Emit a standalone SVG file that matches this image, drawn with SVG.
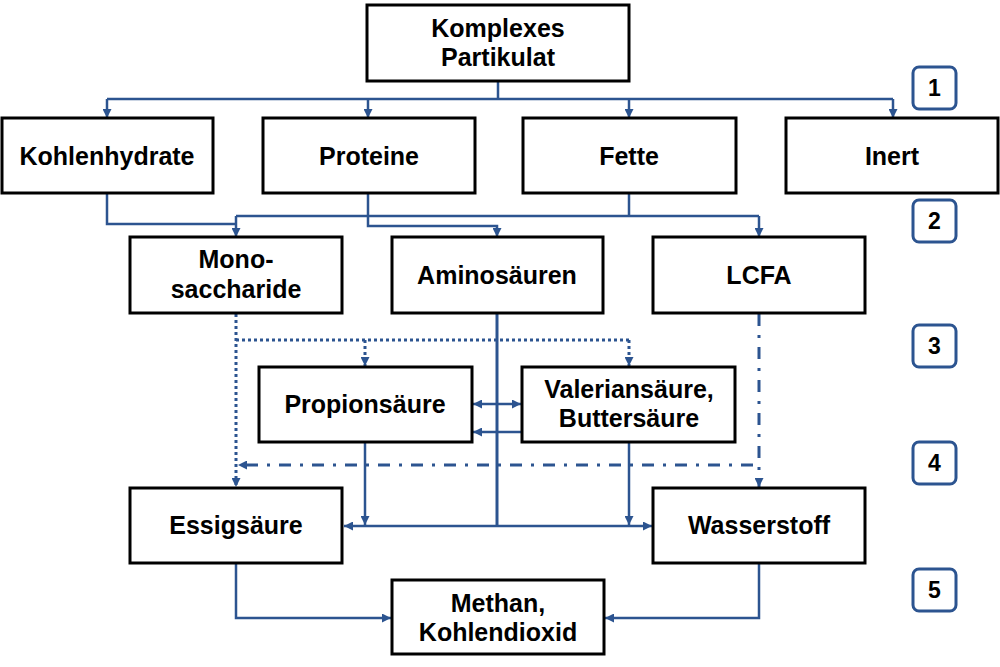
<svg xmlns="http://www.w3.org/2000/svg" width="1000" height="667" viewBox="0 0 1000 667">
<style>
.box{fill:#fff;stroke:#000;stroke-width:3}
.num{fill:#fff;stroke:#2C5490;stroke-width:3}
.t{font-family:"Liberation Sans",Arial,sans-serif;font-weight:bold;font-size:25px;fill:#000;text-anchor:middle}
.tn{font-family:"Liberation Sans",Arial,sans-serif;font-weight:bold;font-size:23px;fill:#000;text-anchor:middle}
.c{fill:none;stroke:#2C5490;stroke-width:2.5}
.thick{stroke-width:3}
.dot{stroke-width:3;stroke-dasharray:3 3}
.dd{stroke-width:3;stroke-dasharray:12 9 3 9}
</style>
<defs>
<marker id="a" viewBox="0 0 10 10" refX="10" refY="5" markerWidth="9" markerHeight="9" markerUnits="userSpaceOnUse" orient="auto-start-reverse">
<path d="M0,0 L10,5 L0,10 z" fill="#2C5490" stroke="none"/>
</marker>
</defs>
<g id="connectors">
<path class="c" d="M498,81 V99 M107,99 H893"/>
<path class="c" d="M107,99 V118" marker-end="url(#a)"/>
<path class="c" d="M368,99 V118" marker-end="url(#a)"/>
<path class="c" d="M629,99 V118" marker-end="url(#a)"/>
<path class="c" d="M893,99 V118" marker-end="url(#a)"/>
<path class="c" d="M107,193 V224 H236"/>
<path class="c" d="M629,193 V216 M236,216 H759"/>
<path class="c" d="M236,216 V237" marker-end="url(#a)"/>
<path class="c" d="M759,216 V237" marker-end="url(#a)"/>
<path class="c" d="M368,193 V226 H497 V237" marker-end="url(#a)"/>
<path class="c dot" d="M236,314 V487" marker-end="url(#a)"/>
<path class="c dot" d="M236,340 H629"/>
<path class="c dot" d="M365,340 V366" marker-end="url(#a)"/>
<path class="c dot" d="M629,340 V366" marker-end="url(#a)"/>
<path class="c dd" d="M759,314 V487" marker-end="url(#a)"/>
<path class="c dd" d="M753,465 H238" marker-end="url(#a)"/>
<path class="c thick" d="M497,314 V526"/>
<path class="c" d="M344,526 H652" marker-start="url(#a)" marker-end="url(#a)"/>
<path class="c" d="M365,443 V525" marker-end="url(#a)"/>
<path class="c" d="M629,443 V525" marker-end="url(#a)"/>
<path class="c" d="M473,404 H521" marker-start="url(#a)" marker-end="url(#a)"/>
<path class="c" d="M521,432 H473" marker-end="url(#a)"/>
<path class="c" d="M236,564 V618 H391" marker-end="url(#a)"/>
<path class="c" d="M759,564 V618 H605" marker-end="url(#a)"/>
</g>
<g id="n-komplexes"><rect class="box" x="367" y="5" width="262" height="76"/><text class="t" x="498" y="37">Komplexes</text><text class="t" x="498" y="66">Partikulat</text></g>
<g id="n-kohlenhydrate"><rect class="box" x="2" y="118" width="211" height="75"/><text class="t" x="107" y="165">Kohlenhydrate</text></g>
<g id="n-proteine"><rect class="box" x="263" y="118" width="212" height="75"/><text class="t" x="369" y="165">Proteine</text></g>
<g id="n-fette"><rect class="box" x="523" y="118" width="213" height="75"/><text class="t" x="629" y="165">Fette</text></g>
<g id="n-inert"><rect class="box" x="786" y="118" width="212" height="75"/><text class="t" x="892" y="165">Inert</text></g>
<g id="n-mono"><rect class="box" x="130" y="237" width="212" height="76"/><text class="t" x="236" y="268">Mono-</text><text class="t" x="236" y="298">saccharide</text></g>
<g id="n-amino"><rect class="box" x="392" y="237" width="211" height="76"/><text class="t" x="497" y="284">Aminosäuren</text></g>
<g id="n-lcfa"><rect class="box" x="653" y="237" width="212" height="76"/><text class="t" x="759" y="284">LCFA</text></g>
<g id="n-propion"><rect class="box" x="259" y="367" width="213" height="75"/><text class="t" x="365" y="413">Propionsäure</text></g>
<g id="n-valerian"><rect class="box" x="522" y="367" width="213" height="75"/><text class="t" x="629" y="398">Valeriansäure,</text><text class="t" x="629" y="427">Buttersäure</text></g>
<g id="n-essig"><rect class="box" x="130" y="488" width="212" height="75"/><text class="t" x="236" y="534">Essigsäure</text></g>
<g id="n-wasser"><rect class="box" x="653" y="488" width="212" height="75"/><text class="t" x="759" y="534">Wasserstoff</text></g>
<g id="n-methan"><rect class="box" x="392" y="580" width="212" height="74"/><text class="t" x="498" y="612">Methan,</text><text class="t" x="498" y="641">Kohlendioxid</text></g>
<g id="n-1"><rect class="num" x="913" y="67" width="43" height="42" rx="6"/><text class="tn" x="934.5" y="96">1</text></g>
<g id="n-2"><rect class="num" x="913" y="200" width="43" height="42" rx="6"/><text class="tn" x="934.5" y="229">2</text></g>
<g id="n-3"><rect class="num" x="913" y="325" width="43" height="42" rx="6"/><text class="tn" x="934.5" y="354">3</text></g>
<g id="n-4"><rect class="num" x="913" y="442" width="43" height="42" rx="6"/><text class="tn" x="934.5" y="471">4</text></g>
<g id="n-5"><rect class="num" x="913" y="569" width="43" height="42" rx="6"/><text class="tn" x="934.5" y="598">5</text></g>
</svg>
